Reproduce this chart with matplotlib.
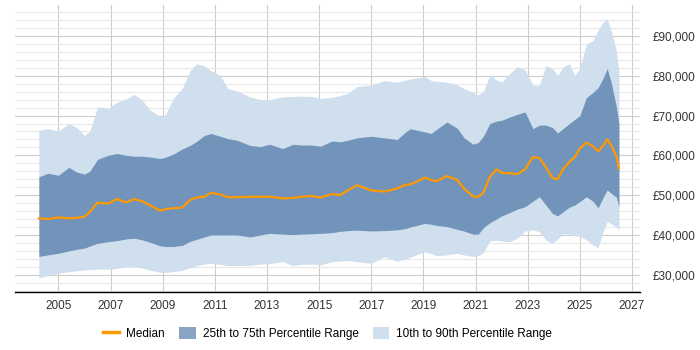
import matplotlib
matplotlib.use("Agg")
import matplotlib.pyplot as plt
from matplotlib.patches import Patch
from matplotlib.lines import Line2D
from matplotlib.ticker import FuncFormatter, MultipleLocator

plt.rcParams['font.family'] = ['Liberation Sans', 'DejaVu Sans']

dates = [2004.25, 2004.6, 2005.0, 2005.4, 2005.7, 2006.0, 2006.2, 2006.5, 2006.9, 2007.25,
         2007.6, 2007.9, 2008.2, 2008.5, 2008.9, 2009.1, 2009.4, 2009.75, 2010.05, 2010.3,
         2010.6, 2010.85, 2011.2, 2011.5, 2011.85, 2012.35, 2012.75, 2013.1, 2013.6, 2014.0,
         2014.3, 2014.7, 2015.05, 2015.5, 2015.8, 2016.1, 2016.45, 2017.0, 2017.5, 2018.0,
         2018.3, 2018.5, 2019.05, 2019.3, 2019.5, 2019.9, 2020.3, 2020.55, 2020.9, 2021.1,
         2021.3, 2021.55, 2021.8, 2022.0, 2022.3, 2022.6, 2022.9, 2023.2, 2023.45, 2023.7,
         2023.95, 2024.15, 2024.35, 2024.6, 2024.8, 2025.0, 2025.25, 2025.5, 2025.7, 2025.9,
         2026.05, 2026.2, 2026.4, 2026.5]

p10 = [29.2, 29.8, 30.4, 30.8, 31.0, 31.2, 31.3, 31.4, 31.4, 31.6,
       32.0, 32.1, 31.7, 31.2, 30.6, 30.6, 30.8, 31.1, 31.8, 32.3,
       32.7, 32.9, 32.6, 32.3, 32.3, 32.4, 32.7, 32.8, 33.3, 32.3,
       32.6, 32.7, 32.5, 33.3, 33.4, 33.6, 33.3, 32.9, 34.5, 33.4,
       34.0, 34.4, 35.8, 35.3, 34.8, 35.0, 35.4, 35.0, 34.6, 34.8,
       35.6, 38.5, 38.7, 38.5, 38.3, 39.2, 41.0, 41.3, 40.8, 38.7,
       37.9, 39.0, 40.3, 40.3, 39.8, 39.6, 38.8, 37.5, 36.8, 41.0,
       43.4, 42.8, 42.0, 41.3]

p25 = [34.6, 35.0, 35.4, 36.0, 36.4, 36.7, 37.2, 37.9, 38.3, 38.6,
       39.0, 39.2, 38.8, 38.2, 37.3, 37.1, 37.1, 37.4, 38.4, 38.9,
       39.5, 40.0, 40.0, 40.0, 40.0, 39.5, 40.0, 40.4, 40.2, 40.1,
       40.2, 40.3, 40.4, 40.6, 40.9, 41.1, 41.2, 41.0, 41.1, 41.3,
       41.6, 42.0, 42.9, 42.7, 42.4, 42.1, 41.4, 41.0, 40.2, 40.2,
       41.8, 43.1, 44.0, 44.8, 45.6, 46.5, 47.1, 48.5, 49.6, 47.5,
       45.4, 44.8, 45.8, 47.0, 47.5, 48.4, 49.6, 48.5, 46.8, 49.5,
       51.3, 50.5, 49.5, 47.1]

median = [44.2, 44.0, 44.4, 44.2, 44.3, 44.6, 45.8, 48.1, 47.9, 49.0,
          48.2, 49.0, 48.5, 47.5, 46.1, 46.5, 46.7, 46.9, 48.8, 49.4,
          49.6, 50.6, 50.2, 49.5, 49.5, 49.6, 49.6, 49.6, 49.2, 49.3,
          49.6, 49.8, 49.4, 50.3, 50.0, 51.2, 52.5, 51.2, 50.9, 51.7,
          52.6, 52.7, 54.4, 53.8, 53.5, 54.8, 53.8, 51.7, 49.7, 49.6,
          50.6, 54.6, 56.5, 55.6, 55.5, 55.3, 56.5, 59.6, 59.3, 57.0,
          54.3, 54.0, 56.5, 58.4, 59.5, 61.7, 63.2, 62.3, 61.0, 62.5,
          64.0, 62.6, 59.8, 56.7]

p75 = [54.6, 55.5, 55.0, 57.0, 55.8, 55.3, 56.0, 59.0, 60.0, 60.5,
       60.0, 59.8, 59.8, 59.6, 59.2, 59.5, 60.3, 61.6, 62.5, 63.5,
       65.0, 65.5, 64.8, 64.2, 63.8, 62.5, 62.2, 62.8, 61.7, 62.8,
       62.6, 62.6, 62.3, 63.6, 63.4, 63.8, 64.4, 64.8, 64.4, 64.0,
       65.8, 66.7, 65.9, 65.5, 66.5, 68.4, 66.8, 64.5, 62.8, 63.2,
       64.8, 68.0, 68.6, 68.8, 69.6, 70.3, 70.9, 66.7, 67.6, 67.6,
       67.0, 65.6, 66.7, 68.0, 69.0, 70.0, 74.5, 75.8, 77.0, 79.5,
       81.8, 78.4, 72.2, 68.0]

p90 = [66.3, 66.7, 66.1, 68.0, 67.0, 65.0, 66.0, 72.2, 71.7, 73.4,
       74.2, 75.3, 74.0, 71.5, 69.7, 70.2, 74.3, 76.8, 81.3, 83.0,
       82.5, 81.3, 80.1, 76.8, 76.2, 74.7, 74.0, 74.0, 74.7, 74.8,
       74.9, 74.8, 74.3, 74.6, 75.0, 75.6, 77.3, 77.6, 78.8, 78.4,
       78.9, 79.2, 79.8, 78.8, 78.6, 78.4, 77.7, 76.8, 75.8, 75.2,
       76.0, 80.3, 79.0, 78.4, 80.5, 82.3, 81.5, 77.6, 77.6, 82.6,
       81.8, 80.1, 82.2, 83.0, 80.1, 81.8, 88.0, 88.8, 91.5, 93.5,
       94.3, 91.4, 86.3, 80.9]

year_ticks = [2005, 2007, 2009, 2011, 2013, 2015, 2017, 2019, 2021, 2023, 2025, 2027]

scale = 1000
p10v = [v * scale for v in p10]
p25v = [v * scale for v in p25]
medv = [v * scale for v in median]
p75v = [v * scale for v in p75]
p90v = [v * scale for v in p90]

c_dark = '#7294ba'
c_light = '#d0dfee'
c_med = '#ff9900'

fig = plt.figure(figsize=(7, 3.5), dpi=100)
ax_left, ax_w = 0.022, 0.892
ax = fig.add_axes([ax_left, 0.166, ax_w, 0.82])

ax.fill_between(dates, p10v, p90v, color=c_light, lw=0, zorder=2)
ax.fill_between(dates, p25v, p75v, color=c_dark, lw=0, zorder=3)
ax.plot(dates, medv, color=c_med, lw=1.6, zorder=4)

ax.set_xlim(2003.35, 2027.3)
ax.set_ylim(25700, 97800)

ax.set_xticks(year_ticks)
ax.set_xticklabels([str(y) for y in year_ticks])
ax.yaxis.set_major_locator(MultipleLocator(10000))
ax.yaxis.set_minor_locator(MultipleLocator(2000))
ax.yaxis.set_major_formatter(FuncFormatter(lambda v, p: '£{:,.0f}'.format(v)))
ax.yaxis.tick_right()

ax.grid(axis='y', which='major', color='#cccccc', lw=0.8, zorder=0)
ax.grid(axis='y', which='minor', color='#e8e8e8', lw=0.8, zorder=0)
ax.grid(axis='x', which='major', color='#cccccc', lw=0.8, zorder=0)
ax.set_axisbelow(True)

for s in ['left', 'right', 'top']:
    ax.spines[s].set_visible(False)
ax.spines['bottom'].set_color('#000000')
ax.spines['bottom'].set_linewidth(1.0)

ax.tick_params(axis='y', which='both', length=0, labelsize=8.5, pad=9, colors='#333333')
ax.tick_params(axis='x', which='both', length=0, labelsize=8.5, pad=6, colors='#333333')

handles = [Line2D([0], [0], color=c_med, lw=2.5),
           Patch(facecolor='#87a4c5', edgecolor='none'),
           Patch(facecolor=c_light, edgecolor='none')]
labels = ['Median', '25th to 75th Percentile Range', '10th to 90th Percentile Range']
fig.legend(handles, labels, loc='center', bbox_to_anchor=(ax_left + ax_w / 2, 0.048), ncol=3,
           frameon=False, fontsize=8.5, handlelength=1.4, handleheight=1.2,
           columnspacing=1.2, handletextpad=0.6)

fig.savefig('out.png', dpi=100)
